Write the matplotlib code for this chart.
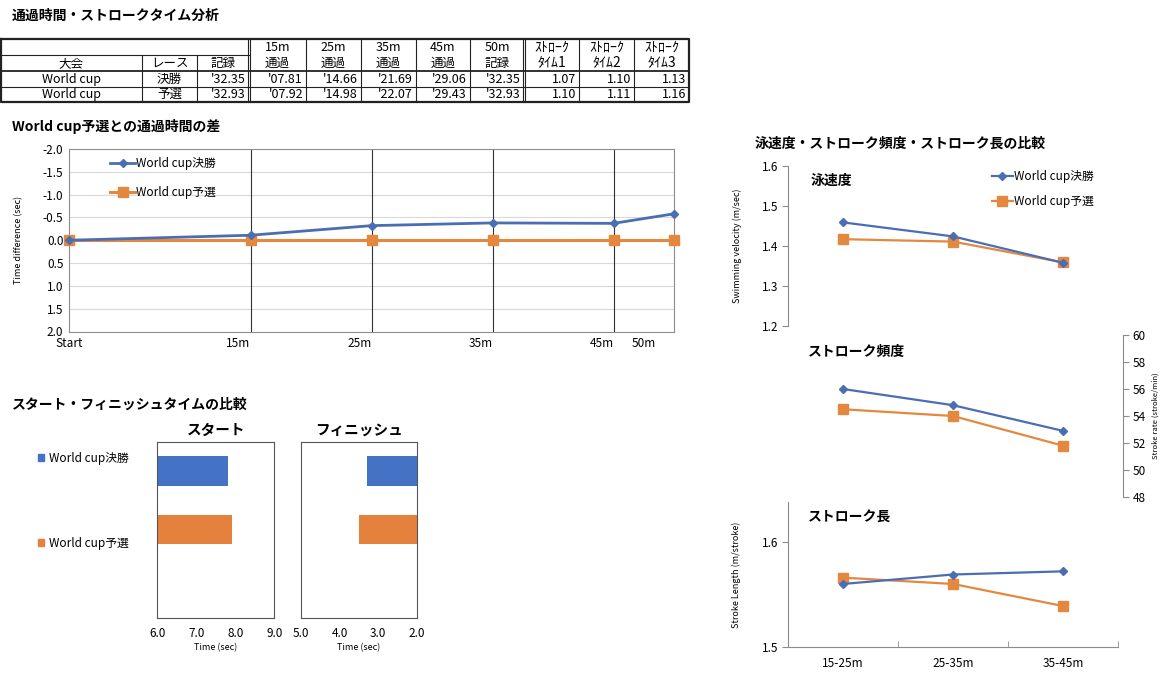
import matplotlib
matplotlib.use('Agg')
import matplotlib.pyplot as plt
import numpy as np
from matplotlib.patches import Patch

plt.rcParams['font.family'] = ['Noto Sans CJK JP', 'DejaVu Sans']
plt.rcParams['axes.unicode_minus'] = False

W, H = 1160, 673

# ---------------- data ----------------
meet = 'World cup'
races = ['決勝', '予選']
series_labels = ['World cup決勝', 'World cup予選']
record = [32.35, 32.93]
split_15 = [7.81, 7.92]
split_25 = [14.66, 14.98]
split_35 = [21.69, 22.07]
split_45 = [29.06, 29.43]
split_50 = [32.35, 32.93]
stroke_time1 = [1.07, 1.10]
stroke_time2 = [1.10, 1.11]
stroke_time3 = [1.13, 1.16]

split_points = ['Start', '15m', '25m', '35m', '45m', '50m']
split_dist = [0, 15, 25, 35, 45, 50]

sections = ['15-25m', '25-35m', '35-45m']
velocity_final = [1.459, 1.424, 1.358]
velocity_prelim = [1.417, 1.411, 1.359]
rate_final = [56.0, 54.8, 52.9]
rate_prelim = [54.5, 54.0, 51.8]
length_final = [1.560, 1.569, 1.572]
length_prelim = [1.566, 1.560, 1.539]

C_BLUE_L = '#4B6EB3'
C_ORANGE_L = '#E5883F'
C_BLUE_B = '#4472C4'
C_ORANGE_B = '#E4813D'
SPINE = '#8c8c8c'
FS = 8.5

fig = plt.figure(figsize=(W / 100, H / 100), dpi=100)


def rect(x0, y0, x1, y1):
    return [x0 / W, 1 - y1 / H, (x1 - x0) / W, (y1 - y0) / H]


bg = fig.add_axes([0, 0, 1, 1])
bg.set_xlim(0, W)
bg.set_ylim(H, 0)
bg.axis('off')

# ---------------- titles ----------------
bg.text(12, 16, '通過時間・ストロークタイム分析', fontsize=10, fontweight='bold', va='center')
bg.text(12, 127, 'World cup予選との通過時間の差', fontsize=10, fontweight='bold', va='center')
bg.text(12, 405, 'スタート・フィニッシュタイムの比較', fontsize=10, fontweight='bold', va='center')
bg.text(755, 144, '泳速度・ストローク頻度・ストローク長の比較', fontsize=10, fontweight='bold', va='center')

# ---------------- table ----------------
cols = [0.5, 142, 197, 249, 306, 361, 416, 470, 524, 579, 634, 689]
rows = [38.5, 55, 71, 86.5, 102]
lc = '#222222'
bg.plot([cols[0], cols[-1], cols[-1], cols[0], cols[0]],
        [rows[0], rows[0], rows[-1], rows[-1], rows[0]], color=lc, lw=1.6)
bg.plot([cols[0], cols[3]], [rows[1], rows[1]], color=lc, lw=0.8)
bg.plot([cols[0], cols[-1]], [rows[2], rows[2]], color=lc, lw=1.3)
bg.plot([cols[0], cols[-1]], [rows[3], rows[3]], color=lc, lw=0.8)
for c in [cols[1], cols[2]]:
    bg.plot([c, c], [rows[1], rows[-1]], color=lc, lw=0.8)
for c in cols[4:8] + cols[9:11]:
    bg.plot([c, c], [rows[0], rows[-1]], color=lc, lw=0.8)
for c in [cols[3], cols[8]]:
    bg.plot([c - 1.2, c - 1.2], [rows[0], rows[-1]], color=lc, lw=0.8)
    bg.plot([c + 1.2, c + 1.2], [rows[0], rows[-1]], color=lc, lw=0.8)


def cc(i):
    return (cols[i] + cols[i + 1]) / 2


yh1 = (rows[0] + rows[1]) / 2 + 0.5
yh2 = (rows[1] + rows[2]) / 2 + 0.5
bg.text(cc(0), yh2, '大会', fontsize=9, ha='center', va='center')
bg.text(cc(1), yh2, 'レース', fontsize=9, ha='center', va='center')
bg.text(cc(2), yh2, '記録', fontsize=9, ha='center', va='center')
top_heads = ['15m', '25m', '35m', '45m', '50m', 'ｽﾄﾛｰｸ', 'ｽﾄﾛｰｸ', 'ｽﾄﾛｰｸ']
bot_heads = ['通過', '通過', '通過', '通過', '記録', 'ﾀｲﾑ1', 'ﾀｲﾑ2', 'ﾀｲﾑ3']
for k, (t1, t2) in enumerate(zip(top_heads, bot_heads)):
    fs = 10 if k >= 5 else 9
    bg.text(cc(3 + k), yh1, t1, fontsize=fs, ha='center', va='center')
    bg.text(cc(3 + k), yh2, t2, fontsize=fs, ha='center', va='center')

for r in range(2):
    yc = (rows[2 + r] + rows[3 + r]) / 2 + 0.5
    bg.text(cc(0), yc, meet, fontsize=9, ha='center', va='center')
    bg.text(cc(1), yc, races[r], fontsize=9, ha='center', va='center')
    vals = [record[r], split_15[r], split_25[r], split_35[r], split_45[r], split_50[r]]
    for k, v in enumerate(vals):
        bg.text(cols[3 + k] - 3, yc, "'%05.2f" % v, fontsize=9, ha='right', va='center')
    for k, v in enumerate([stroke_time1[r], stroke_time2[r], stroke_time3[r]]):
        bg.text(cols[9 + k] - 3, yc, '%.2f' % v, fontsize=9, ha='right', va='center')

# ---------------- split difference chart ----------------
final_splits = np.array([0, split_15[0], split_25[0], split_35[0], split_45[0], split_50[0]])
prelim_splits = np.array([0, split_15[1], split_25[1], split_35[1], split_45[1], split_50[1]])
diff_final = final_splits - prelim_splits
diff_prelim = prelim_splits - prelim_splits

ax1 = fig.add_axes(rect(69, 149, 674, 331.5))
ax1.set_xlim(0, 50)
ax1.set_ylim(2, -2)
yt = np.arange(-2, 2.01, 0.5)
for yv in yt[1:-1]:
    ax1.axhline(yv, color='#d9d9d9', lw=0.8, zorder=0)
for xv in split_dist[1:-1]:
    ax1.axvline(xv, color='#333333', lw=0.8, zorder=1)
ax1.plot(split_dist, diff_final, color=C_BLUE_L, marker='D', ms=4.5, lw=2,
         clip_on=False, zorder=4, label=series_labels[0])
ax1.plot(split_dist, diff_prelim, color=C_ORANGE_L, marker='s', ms=7, lw=2.2,
         clip_on=False, zorder=3, label=series_labels[1])
ax1.set_yticks(yt)
ax1.set_yticklabels(['%.1f' % v for v in yt])
tick_pos = split_dist[:-1] + [(split_dist[-2] + split_dist[-1]) / 2]
ax1.set_xticks(tick_pos)
ax1.set_xticklabels(split_points)
for lab, ha in zip(ax1.get_xticklabels(), ['center', 'right', 'right', 'right', 'right', 'center']):
    lab.set_ha(ha)
ax1.tick_params(length=0, labelsize=FS, pad=4)
for s in ax1.spines.values():
    s.set_color(SPINE)
ax1.set_ylabel('Time difference (sec)', fontsize=6.5)
ax1.yaxis.set_label_coords(-0.076, 0.5)
ax1.legend(loc='upper left', bbox_to_anchor=(0.068, 0.955), frameon=False,
           fontsize=FS, handlelength=2.1, handletextpad=0.1,
           labelspacing=1.35, borderpad=0, borderaxespad=0)

# ---------------- start / finish bars ----------------
finish_time = [r - s for r, s in zip(split_50, split_45)]
ybars = [0, 1]
bar_cols = [C_BLUE_B, C_ORANGE_B]

axS = fig.add_axes(rect(157.3, 441.7, 274.3, 617.7))
axS.barh(ybars, split_15, height=0.5, color=bar_cols)
axS.set_xlim(6, 9)
axS.set_ylim(2.5, -0.5)
axS.set_xticks([6, 7, 8, 9])
axS.set_xticklabels(['%.1f' % v for v in [6, 7, 8, 9]])
axS.set_title('スタート', fontsize=10.5, fontweight='bold', pad=5)

axF = fig.add_axes(rect(301, 441.7, 416.7, 617.7))
axF.barh(ybars, finish_time, height=0.5, color=bar_cols)
axF.set_xlim(5, 2)
axF.set_ylim(2.5, -0.5)
axF.set_xticks([5, 4, 3, 2])
axF.set_xticklabels(['%.1f' % v for v in [5, 4, 3, 2]])
axF.set_title('フィニッシュ', fontsize=10.5, fontweight='bold', pad=5)

for ax in (axS, axF):
    ax.set_yticks([])
    ax.tick_params(length=0, labelsize=FS, pad=7)
    ax.set_xlabel('Time (sec)', fontsize=6.5, labelpad=2)
    for s in ax.spines.values():
        s.set_color('#555555')

fig.legend(handles=[Patch(color=C_BLUE_B), Patch(color=C_ORANGE_B)], labels=series_labels,
           loc='upper left', bbox_to_anchor=(38 / W, 1 - 452 / H), frameon=False,
           fontsize=FS, handlelength=0.55, handleheight=0.55, handletextpad=0.4,
           labelspacing=6.1, borderpad=0, borderaxespad=0)

# ---------------- velocity / rate / length ----------------
xs = np.arange(len(sections))

ax_v = fig.add_axes(rect(788, 166, 1118, 326))
ax_v.patch.set_alpha(0)
ax_v.plot(xs, velocity_final, color=C_BLUE_L, marker='D', ms=4.5, lw=1.6, label=series_labels[0], zorder=4)
ax_v.plot(xs, velocity_prelim, color=C_ORANGE_L, marker='s', ms=7, lw=1.6, label=series_labels[1], zorder=3)
ax_v.set_xlim(-0.5, 2.5)
ax_v.set_ylim(1.2, 1.6)
vt = [1.2, 1.3, 1.4, 1.5, 1.6]
ax_v.set_yticks(vt)
ax_v.set_yticklabels(['%.1f' % v for v in vt])
ax_v.set_xticks([])
for k in ('top', 'right', 'bottom'):
    ax_v.spines[k].set_visible(False)
ax_v.spines['left'].set_color(SPINE)
ax_v.tick_params(axis='y', direction='out', length=4, color=SPINE, labelsize=FS, pad=3)
ax_v.set_ylabel('Swimming velocity (m/sec)', fontsize=6.5)
ax_v.yaxis.set_label_coords(-0.139, 0.5)
ax_v.legend(loc='upper left', bbox_to_anchor=(0.618, 0.975), frameon=False,
            fontsize=FS, handlelength=1.75, handletextpad=0.15,
            labelspacing=1.05, borderpad=0, borderaxespad=0)

ax_r = fig.add_axes(rect(788, 335, 1123, 497))
ax_r.patch.set_alpha(0)
ax_r.plot(xs, rate_final, color=C_BLUE_L, marker='D', ms=4.5, lw=1.6, zorder=4)
ax_r.plot(xs, rate_prelim, color=C_ORANGE_L, marker='s', ms=7, lw=1.6, zorder=3)
ax_r.set_xlim(-0.5, -0.5 + 335 / 110)
ax_r.set_ylim(48, 60)
rt = list(range(48, 61, 2))
ax_r.set_yticks(rt)
ax_r.set_xticks([])
ax_r.yaxis.tick_right()
for k in ('top', 'left', 'bottom'):
    ax_r.spines[k].set_visible(False)
ax_r.spines['right'].set_color(SPINE)
ax_r.tick_params(axis='y', direction='out', length=4, color=SPINE, labelsize=FS, pad=3)
ax_r.yaxis.set_label_position('right')
ax_r.set_ylabel('Stroke rate (stroke/min)', fontsize=5.5, rotation=90)
ax_r.yaxis.set_label_coords(1.086, 0.5)

ax_l = fig.add_axes(rect(788, 502, 1118, 647))
ax_l.patch.set_alpha(0)
ax_l.plot(xs, length_final, color=C_BLUE_L, marker='D', ms=4.5, lw=1.6, zorder=4)
ax_l.plot(xs, length_prelim, color=C_ORANGE_L, marker='s', ms=7, lw=1.6, zorder=3)
ax_l.set_xlim(-0.5, 2.5)
ax_l.set_ylim(1.5, 1.638)
ax_l.set_yticks([1.5, 1.6])
ax_l.set_yticklabels(['1.5', '1.6'])
ax_l.set_xticks(xs)
ax_l.set_xticklabels(sections)
ax_l.set_xticks([0.5, 1.5, 2.5], minor=True)
for k in ('top', 'right'):
    ax_l.spines[k].set_visible(False)
for k in ('left', 'bottom'):
    ax_l.spines[k].set_color(SPINE)
ax_l.tick_params(axis='y', direction='out', length=4, color=SPINE, labelsize=FS, pad=3)
ax_l.tick_params(axis='x', which='major', length=0, labelsize=FS, pad=7)
ax_l.tick_params(axis='x', which='minor', direction='in', length=4, color=SPINE)
ax_l.set_ylabel('Stroke Length (m/stroke)', fontsize=6.5)
ax_l.yaxis.set_label_coords(-0.142, 0.5)

bg.text(811, 181, '泳速度', fontsize=10, fontweight='bold', va='center')
bg.text(808, 352, 'ストローク頻度', fontsize=10, fontweight='bold', va='center')
bg.text(808, 517, 'ストローク長', fontsize=10, fontweight='bold', va='center')

fig.savefig('out.png', dpi=100)
